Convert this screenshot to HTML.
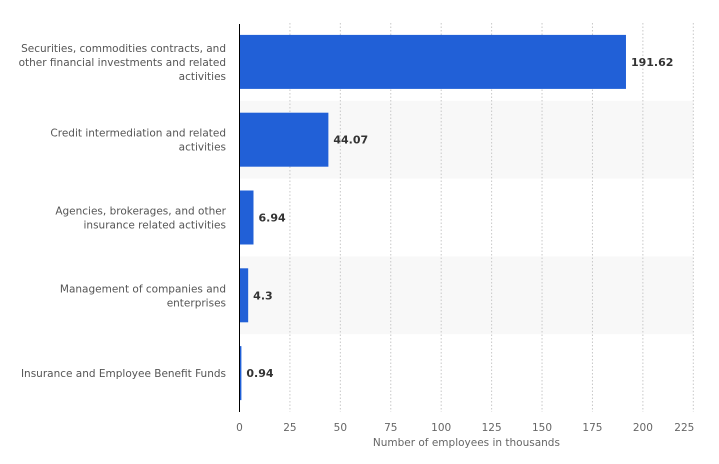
<!DOCTYPE html>
<html><head><meta charset="utf-8"><style>
body{margin:0;background:#fff;width:719px;height:460px;overflow:hidden;font-family:"DejaVu Sans","Liberation Sans",sans-serif;}
svg text{font-family:"DejaVu Sans","Liberation Sans",sans-serif;}
</style></head><body>
<svg id="chart" width="719" height="460"></svg>
<script>
const categories = [
  ["Securities, commodities contracts, and","other financial investments and related","activities"],
  ["Credit intermediation and related","activities"],
  ["Agencies, brokerages, and other","insurance related activities"],
  ["Management of companies and","enterprises"],
  ["Insurance and Employee Benefit Funds"]
];
const values = [191.62, 44.07, 6.94, 4.3, 0.94];
const valueLabels = ["191.62","44.07","6.94","4.3","0.94"];
const ticks = [0,25,50,75,100,125,150,175,200,225];

const NS="http://www.w3.org/2000/svg";
const svg=document.getElementById('chart');
const x0=239.5, x1=693.3, xmax=225, plotTop=23, plotBottom=412;
const band=(plotBottom-plotTop)/categories.length;
const x=v=>x0+(v/xmax)*(x1-x0);
const yc=i=>plotTop+band*(i+0.5);
function mk(tag,attrs,parent){const e=document.createElementNS(NS,tag);for(const k in attrs)e.setAttribute(k,attrs[k]);(parent||svg).appendChild(e);return e;}

categories.forEach((c,i)=>{
  if(i%2===1){
    const r=mk('rect',{x:x0,y:plotTop+band*i,width:x1-x0,height:band,fill:'#f8f8f8'});
    
    
  }
});
ticks.forEach((t,k)=>{
  if(t>0){
    const l=mk('line',{x1:x(t),x2:x(t),y1:plotTop,y2:plotBottom,stroke:'#c8c8c8','stroke-dasharray':'1.5,2','stroke-width':1});
    
    
  }
  const last=k===ticks.length-1;
  const tx=mk('text',{x:last?x(t)-9:x(t),y:431,'text-anchor':'middle','font-size':10.5,fill:'#666'});
  tx.textContent=t;
  
  
});
categories.forEach((c,i)=>{
  const b=mk('rect',{x:x0,y:yc(i)-27,width:x(values[i])-x0,height:54,fill:'#2160d7'});
  
  
  const v=mk('text',{x:x(values[i])+5,y:yc(i)+4,'font-size':11,'font-weight':'bold',fill:'#333'});
  v.textContent=valueLabels[i];
  
  
  const lh=14, n=c.length;
  const t=mk('text',{'text-anchor':'end','font-size':10.5,fill:'#555'});
  
  
  c.forEach((line,j)=>{
    const s=mk('tspan',{x:226,y:yc(i)+4+(j-(n-1)/2)*lh},t);
    s.textContent=line;
  });
});
const ax=mk('line',{x1:x0,x2:x0,y1:plotTop+1,y2:plotBottom,stroke:'#000','stroke-width':1});


const title=mk('text',{x:(x0+x1)/2,y:446,'text-anchor':'middle','font-size':10.5,fill:'#666'});
title.textContent='Number of employees in thousands';


</script>
</body></html>
